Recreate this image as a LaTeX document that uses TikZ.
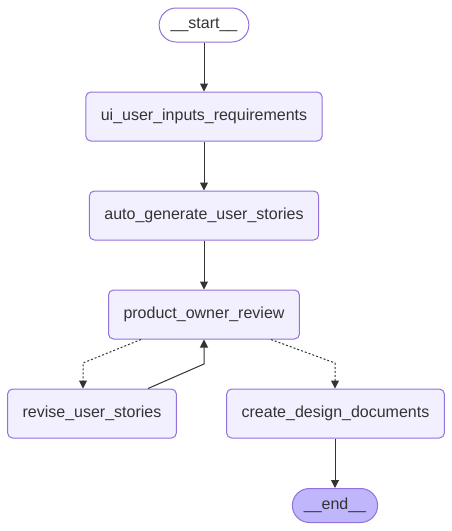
\documentclass[tikz,border=0pt]{standalone}
\usepackage{fontspec}
\setmainfont{Liberation Sans}
\usetikzlibrary{arrows.meta, calc}

\definecolor{nodefill}{HTML}{F2F0FF}
\definecolor{nodeline}{HTML}{9370DB}
\definecolor{endfill}{HTML}{BFB6FC}
\definecolor{edgecol}{HTML}{333333}

\tikzset{
    stepbox/.style={draw=nodeline, fill=nodefill, line width=1pt, rounded corners=5pt,
        minimum height=49pt, inner xsep=15pt, text=edgecol, font=\fontsize{16}{19}\selectfont},
    terminal/.style={stepbox, rounded corners=17pt, minimum height=34pt, inner xsep=11.5pt},
    flow/.style={draw=edgecol, line width=1pt, -{Triangle[length=8pt,width=8pt]}},
    cond/.style={flow, dash pattern=on 2pt off 2pt}
}

\begin{document}
\begin{tikzpicture}[x=1pt, y=-1pt]
        \useasboundingbox (0,0) rectangle (452,531);

        \node[terminal, fill=white] (start) at (204,25) {\_\_start\_\_};
        \node[stepbox] (ui) at (204,116.5) {ui\_user\_inputs\_requirements};
        \node[stepbox] (auto) at (204,215.5) {auto\_generate\_user\_stories};
        \node[stepbox] (review) at (204,314.5) {product\_owner\_review};
        \node[stepbox] (revise) at (92,413.5) {revise\_user\_stories};
        \node[stepbox] (design) at (335.5,413.5) {create\_design\_documents};
        \node[terminal, fill=endfill] (end) at (335,505.5) {\_\_end\_\_};

        \coordinate (bendl) at (83,363);
        \coordinate (bendm) at (204,364);
        \coordinate (bendr) at (335,363);

        \draw[flow] (start) -- (ui);
        \draw[flow] (ui) -- (auto);
        \draw[flow] (auto) -- (review);
        \draw[cond] (review.south west) ++(33,0) -- (bendl) -- (bendl |- revise.north);
        \draw[flow] (revise.north) ++(56,0) -- (bendm) -- (review.south);
        \draw[cond] (review.south east) ++(-29,0) -- (bendr) -- (bendr |- design.north);
        \draw[flow] (design.south -| end) -- (end);
    \end{tikzpicture}
\end{document}
